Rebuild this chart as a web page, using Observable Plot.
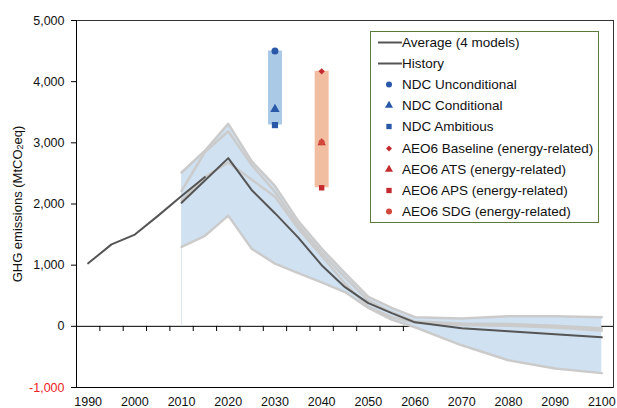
<!DOCTYPE html>
<html>
<head>
<meta charset="utf-8">
<script src="https://cdn.jsdelivr.net/npm/d3@7"></script>
<script src="https://cdn.jsdelivr.net/npm/@observablehq/plot@0.6"></script>
<style>
  html, body { margin: 0; padding: 0; background: #fff; }
  #wrap { position: relative; width: 617px; height: 408px; overflow: hidden; font-family: "Liberation Sans", Arial, sans-serif; }
  #legend { position: absolute; left: 370px; top: 31px; width: 229px; height: 192px; border: 1px solid #5a7b3b; background: #fff; box-sizing: border-box; }
  .row { position: absolute; left: 0; height: 21px; display: flex; align-items: center; font-size: 13.5px; color: #111; white-space: nowrap; }
  .row svg { display: block; flex: none; }
</style>
</head>
<body>
<div id="wrap"></div>
<script>
// ---------- data ----------
const historyYears  = [1990, 1995, 2000, 2005, 2010, 2015];
const historyValues = [1030, 1340, 1500, 1810, 2130, 2440];

const modelYears = [2010, 2015, 2020, 2025, 2030, 2035, 2040, 2045, 2050, 2055, 2060, 2070, 2080, 2090, 2100];
const modelA = [2515, 2870, 3310, 2700, 2295, 1720, 1270, 870, 480, 300, 150, 130, 165, 165, 150];
const modelB = [2215, 2850, 3190, 2640, 2200, 1650, 1200, 800, 420, 230, 80, 45, 40, 10, -30];
const modelC = [2060, 2440, 2680, 2400, 2120, 1600, 1150, 700, 320, 150, 60, 20, 10, -20, -70];
const modelD = [1300, 1480, 1810, 1270, 1025, 870, 720, 560, 300, 110, -15, -310, -555, -690, -765];
const averageValues = [2020, 2385, 2750, 2230, 1850, 1450, 1000, 640, 380, 215, 65, -30, -80, -130, -180];

const ndcYear = 2030;
const ndcLabels = ["NDC Unconditional", "NDC Conditional", "NDC Ambitious"];
const ndcValues = [4500, 3550, 3290];
const ndcSymbols = ["circle", "triangle", "square"];

const aeoYear = 2040;
const aeoLabels = ["AEO6 Baseline (energy-related)", "AEO6 ATS (energy-related)", "AEO6 APS (energy-related)", "AEO6 SDG (energy-related)"];
const aeoValues = [4170, 3000, 2265, 3010];
const aeoSymbols = ["diamond2", "triangle", "square", "circle"];

const yTicks = [-1000, 0, 1000, 2000, 3000, 4000, 5000];
const xLabels = [1990, 2000, 2010, 2020, 2030, 2040, 2050, 2060, 2070, 2080, 2090, 2100];
const xMinorTicks = d3.range(1992.5, 2100, 5);

// ---------- derived tables ----------
const history = historyYears.map((year, i) => ({year, value: historyValues[i]}));
const models = [["A", modelA], ["B", modelB], ["C", modelC], ["D", modelD]];
const modelsLong = models.flatMap(([m, vals]) => modelYears.map((year, i) => ({model: m, year, value: vals[i]})));
const band = modelYears.map((year, i) => {
  const vs = models.map(([, v]) => v[i]);
  return {year, lo: d3.min(vs), hi: d3.max(vs)};
});
const average = modelYears.map((year, i) => ({year, value: averageValues[i]}));
const ndc = ndcValues.map((value, i) => ({year: ndcYear, value, symbol: ndcSymbols[i], label: ndcLabels[i]}));
const aeo = aeoValues.map((value, i) => ({year: aeoYear, value, symbol: aeoSymbols[i], label: aeoLabels[i]}));
const ndcBar = [{year: ndcYear, lo: d3.min(ndcValues), hi: d3.max(ndcValues)}];
const aeoBar = [{year: aeoYear, lo: d3.min(aeoValues), hi: d3.max(aeoValues)}];

const NDC_BAR = "#a9c9e7", AEO_BAR = "#f2bea2";
const NDC_MARK = "#2a58a8", AEO_MARK = "#c42a2e", AEO_SDG = "#d2483a";
const BAND = "#d0e2f2", MODEL = "#cbcbcb", LINE = "#555";

const chart = Plot.plot({
  width: 617, height: 408,
  marginLeft: 76, marginRight: 4, marginTop: 20, marginBottom: 21,
  x: {domain: [1987.5, 2102.5]},
  y: {domain: [-1000, 5000]},
  style: {fontFamily: "Liberation Sans, Arial, sans-serif", fontSize: "12.5px", background: "white", color: "#111", overflow: "visible"},
  marks: [
    Plot.ruleY([0], {stroke: "#000", strokeWidth: 1}),
    Plot.ruleX(xMinorTicks, {x: d => d, y1: 0, y2: -85, stroke: "#000"}),
    Plot.ruleX([band[0]], {x: "year", y1: 0, y2: "lo", stroke: "#dbe5ef"}),
    Plot.areaY(band, {x: "year", y1: "lo", y2: "hi", fill: BAND}),
    Plot.line(modelsLong, {x: "year", y: "value", z: "model", stroke: MODEL, strokeWidth: 2.5}),
    Plot.line(history, {x: "year", y: "value", stroke: LINE, strokeWidth: 2}),
    Plot.line(average, {x: "year", y: "value", stroke: LINE, strokeWidth: 2}),
    Plot.ruleX(ndcBar, {x: "year", y1: "lo", y2: "hi", stroke: NDC_BAR, strokeWidth: 14}),
    Plot.ruleX(aeoBar, {x: "year", y1: "lo", y2: "hi", stroke: AEO_BAR, strokeWidth: 14}),
    Plot.dot(ndc, {x: "year", y: "value", symbol: d => d.symbol, fill: NDC_MARK, r: 3.5}),
    Plot.dot(aeo, {x: "year", y: "value", symbol: d => d.symbol, fill: d => d.symbol === "circle" ? AEO_SDG : AEO_MARK, r: d => d.symbol === "diamond2" ? 3 : 3.5}),
    Plot.frame({stroke: "#333"}),
    Plot.ruleX([1987.5], {stroke: "#000"}),
    Plot.ruleY([-1000], {stroke: "#000"}),
    Plot.axisY({ticks: yTicks, tickSize: 5, tickFormat: () => "", label: null, stroke: "#000"}),
    Plot.text(yTicks.filter(d => d >= 0), {y: d => d, frameAnchor: "left", dx: -12, textAnchor: "end", text: d => d3.format(",")(d), fill: "#111", fontSize: 12.5}),
    Plot.text(yTicks.filter(d => d < 0), {y: d => d, frameAnchor: "left", dx: -12, textAnchor: "end", text: d => d3.format(",")(d).replace("−", "-"), fill: "#ee2222", fontSize: 12.5}),
    Plot.axisX({ticks: xLabels, tickSize: 0, tickPadding: 10, tickFormat: d => String(d), label: null, fontSize: 12.5})
  ]
});

const wrap = document.getElementById("wrap");
wrap.appendChild(chart);

// y-axis title with subscript
const svg = d3.select(chart.tagName.toLowerCase() === "svg" ? chart : chart.querySelector("svg"));
const yt = svg.append("text")
  .attr("transform", "translate(17,204) rotate(-90)")
  .attr("text-anchor", "middle")
  .attr("dominant-baseline", "central")
  .attr("font-size", 13)
  .attr("fill", "#111");
yt.append("tspan").text("GHG emissions (MtCO");
yt.append("tspan").attr("font-size", 9).attr("dy", 3).text("2");
yt.append("tspan").attr("dy", -3).text("eq)");

// legend
const legendItems = [
  {label: "Average (4 models)", kind: "line", color: LINE},
  {label: "History", kind: "line", color: LINE},
  ...ndc.map(d => ({label: d.label, kind: d.symbol, color: NDC_MARK})),
  ...aeo.map(d => ({label: d.label, kind: d.symbol, color: d.symbol === "circle" ? AEO_SDG : AEO_MARK}))
];
const legend = document.createElement("div");
legend.id = "legend";
wrap.appendChild(legend);
const symMap = {circle: d3.symbolCircle, triangle: d3.symbolTriangle, square: d3.symbolSquare, diamond2: d3.symbolDiamond2};
legendItems.forEach((item, i) => {
  const row = document.createElement("div");
  row.className = "row";
  row.style.top = (i * 21.1) + "px";
  const s = d3.create("svg").attr("width", 31).attr("height", 21);
  if (item.kind === "line") {
    s.append("line").attr("x1", 7).attr("x2", 31).attr("y1", 10.5).attr("y2", 10.5).attr("stroke", item.color).attr("stroke-width", 2);
  } else {
    const rr = item.kind === "diamond2" ? 2.7 : 3;
    s.append("path").attr("transform", "translate(18,10.5)")
      .attr("d", d3.symbol(symMap[item.kind], Math.PI * rr * rr)())
      .attr("fill", item.color);
  }
  row.appendChild(s.node());
  const t = document.createElement("span");
  t.textContent = item.label;
  row.appendChild(t);
  legend.appendChild(row);
});
</script>
</body>
</html>
